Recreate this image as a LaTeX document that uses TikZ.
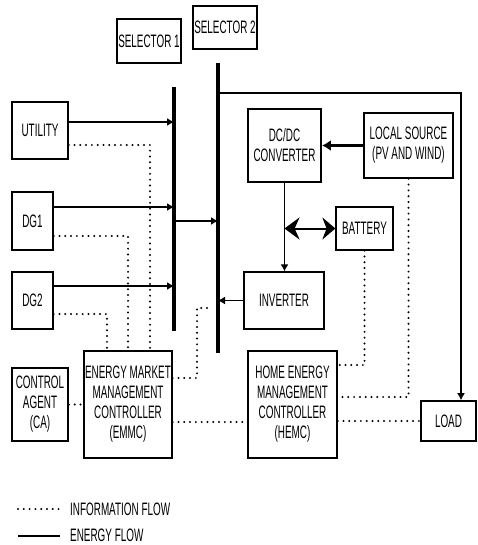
\documentclass[tikz,border=0pt]{standalone}
\usepackage{fontspec}
\setmainfont{Liberation Sans}[FakeStretch=0.55]
\usetikzlibrary{arrows.meta}
\begin{document}
\begin{tikzpicture}[x=1pt,y=-1pt,
  box/.style={draw, line width=1.3pt, inner sep=0pt, align=center,
    font=\fontsize{18}{20}\selectfont},
  txt/.style={inner sep=0pt, anchor=west, font=\fontsize{18}{20}\selectfont},
  bus/.style={line width=3.3pt},
  energy/.style={line width=1.3pt, -{Latex[length=7pt,width=8pt]}},
  info/.style={line width=2.2pt, dash pattern=on 0pt off 5.8pt, line cap=round},
]
\useasboundingbox (0,0) rectangle (477,545);

% boxes
\node[box, minimum width=64pt, minimum height=44pt] (sel1) at (149,41) {SELECTOR 1};
\node[box, minimum width=64pt, minimum height=43pt] (sel2) at (225,27.5) {SELECTOR 2};
\node[box, minimum width=56pt, minimum height=57pt] (utility) at (40,130.5) {UTILITY};
\node[box, minimum width=41pt, minimum height=58pt] (dg1) at (32.5,221) {DG1};
\node[box, minimum width=41pt, minimum height=57pt] (dg2) at (32.5,300.5) {DG2};
\node[box, line width=1.8pt, minimum width=56pt, minimum height=73pt] (ca) at (40,404.5) {CONTROL\\AGENT\\(CA)};
\node[box, minimum width=88pt, minimum height=107pt] (emmc) at (128,404.5) {ENERGY MARKET\\MANAGEMENT\\CONTROLLER\\(EMMC)};
\node[box, minimum width=89pt, minimum height=107pt] (hemc) at (292.5,404.5) {HOME ENERGY\\MANAGEMENT\\CONTROLLER\\(HEMC)};
\node[box, line width=1.8pt, minimum width=73pt, minimum height=73pt] (dcdc) at (284.5,145.5) {DC/DC\\CONVERTER};
\node[box, line width=1.6pt, minimum width=89pt, minimum height=65pt] (local) at (408.5,145.5) {LOCAL SOURCE\\(PV AND WIND)};
\node[box, minimum width=57pt, minimum height=43pt] (battery) at (364.5,228.5) {BATTERY};
\node[box, minimum width=80pt, minimum height=57pt] (inverter) at (284,300.5) {INVERTER};
\node[box, line width=1.6pt, minimum width=55pt, minimum height=40pt] (load) at (448.5,421) {LOAD};

% buses
\coordinate (b1t) at (174,87);
\coordinate (b1b) at (174,331);
\coordinate (b2t) at (218,63);
\coordinate (b2b) at (218,353);
\draw[bus] (b1t) -- (b1b);
\draw[bus] (b2t) -- (b2b);

% energy flow
\draw[energy] (utility.east |- 0,122) -- (b1t |- 0,122);
\draw[energy] (dg1.east |- 0,207) -- (b1t |- 0,207);
\draw[energy] (dg2.east |- 0,286) -- (b1t |- 0,286);
\draw[energy] (b1t |- 0,221) -- (b2t |- 0,221);
\draw[energy] (inverter.west) -- (b2t |- inverter.west);
\draw[energy] (b2t |- 0,93) -| (load.north -| 461,0);
\draw[line width=2.6pt, -{Latex[length=9pt,width=11pt]}] (local.west) -- (dcdc.east);
\draw[energy] (dcdc.south) -- (inverter.north -| dcdc.south);
\draw[line width=2pt, {Stealth[length=15pt,width=22pt]}-{Stealth[length=13pt,width=22pt]}]
  (dcdc.south |- battery.west) -- (battery.west);

% information flow
\draw[info] (utility.east |- 0,145) -| (emmc.north -| 150,0);
\draw[info] (dg1.east |- 0,236) -| (emmc.north -| 128,0);
\draw[info] (dg2.east |- 0,314) -| (emmc.north -| 107,0);
\coordinate (invtap) at (212,308);
\draw[info] (emmc.east |- 0,378) -| (197,308) -- (invtap);
\draw[info] (ca.east) -- (emmc.west |- ca.east);
\draw[info] (emmc.east |- 0,422) -- (hemc.west |- 0,422);
\draw[info] (battery.south) |- (hemc.east |- 0,365);
\draw[info] (local.south) |- (hemc.east |- 0,397);
\draw[info] (hemc.east |- load.west) -- (load.west);

% legend
\coordinate (l1a) at (18,509);
\coordinate (l1b) at (60,509);
\coordinate (l2a) at (18,536);
\coordinate (l2b) at (60,536);
\draw[info] (l1a) -- (l1b);
\draw[line width=2.5pt] (l2a) -- (l2b);
\node[txt] (linfo) at (70,509) {INFORMATION FLOW};
\node[txt] (lenergy) at (70,535.5) {ENERGY FLOW};
\end{tikzpicture}
\end{document}
